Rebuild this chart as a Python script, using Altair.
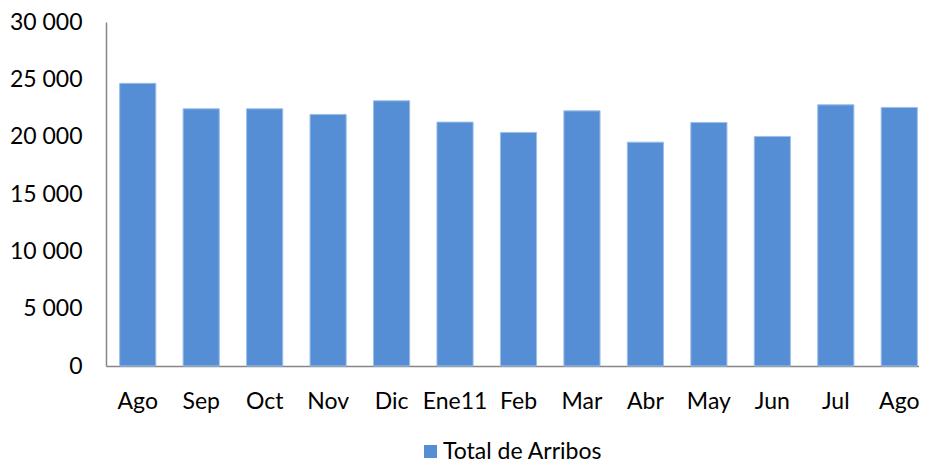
import altair as alt
import pandas as pd

months = ["Ago", "Sep", "Oct", "Nov", "Dic", "Ene11", "Feb", "Mar", "Abr", "May", "Jun", "Jul", "Ago"]
arribos = [24650, 22430, 22430, 21940, 23130, 21270, 20370, 22250, 19520, 21240, 20020, 22780, 22550]
y_ticks = [0, 5000, 10000, 15000, 20000, 25000, 30000]
series_name = "Total de Arribos"

df = pd.DataFrame({
    "key": [f"{m}|{i}" for i, m in enumerate(months)],
    "valor": arribos,
    "serie": [series_name] * len(months),
})

FONT = "Lato"
FS = 23

chart = alt.Chart(df).mark_bar(stroke="#9DBFE8", strokeWidth=1).encode(
    x=alt.X("key:N", sort=None, title=None,
            scale=alt.Scale(range=[0, 825], paddingInner=0.43, paddingOuter=0.215),
            axis=alt.Axis(labelExpr="split(datum.label, '|')[0]", labelAngle=0,
                          ticks=False, tickSize=0, labelPadding=24, labelFont=FONT,
                          labelFontSize=FS, labelColor="#000000", domainColor="#868686",
                          domainWidth=1.5, labelBaseline="top")),
    y=alt.Y("valor:Q", title=None,
            scale=alt.Scale(domain=[0, 30000], nice=False),
            axis=alt.Axis(values=y_ticks, grid=False, ticks=False, tickSize=0,
                          labelExpr="replace(format(datum.value, ','), ',', ' ')",
                          labelPadding=24, labelFont=FONT, labelFontSize=FS,
                          labelColor="#000000", domainColor="#868686", domainWidth=1.5)),
    color=alt.Color("serie:N", title=None,
                    scale=alt.Scale(range=["#558ED5"]),
                    legend=alt.Legend(orient="none", legendX=313, legendY=418,
                                      symbolType="square", symbolSize=169,
                                      symbolStrokeWidth=0, labelFont=FONT,
                                      labelFontSize=FS, labelColor="#000000",
                                      labelOffset=1, padding=0)),
).properties(
    width=813,
    height=344,
    autosize=alt.AutoSizeParams(type="none"),
    padding={"left": 98, "top": 14, "right": 0, "bottom": 98},
).configure_view(stroke=None)

chart.save("out.html", embed_options={"renderer": "svg", "actions": False})
